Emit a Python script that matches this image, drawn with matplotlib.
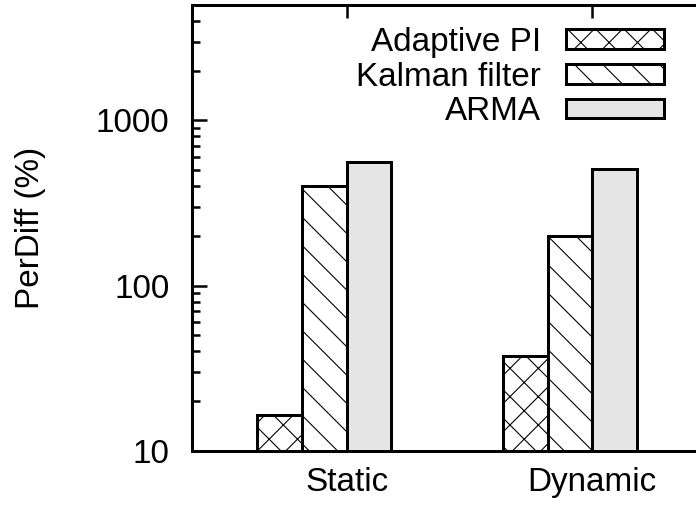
import matplotlib
matplotlib.use('Agg')
import matplotlib.pyplot as plt
from matplotlib.ticker import FixedLocator, FixedFormatter, LogLocator, NullFormatter
import numpy as np

# ---- data ----
categories = ['Static', 'Dynamic']
series_names = ['Adaptive PI', 'Kalman filter', 'ARMA']
adaptive_pi = [16.5, 37.5]
kalman_filter = [400, 200]
arma = [560, 510]
ytick_values = [10, 100, 1000]
ytick_labels = ['10', '100', '1000']
ylabel = 'PerDiff (%)'

# ---- style ----
DPI = 170
W, H = 696, 508
PX = 72.0 / DPI  # points per pixel
plt.rcParams['font.family'] = ['Liberation Sans', 'DejaVu Sans']
plt.rcParams['hatch.linewidth'] = 1.1 * PX
plt.rcParams['hatch.color'] = 'black'
FS = 33.3 * PX

fig = plt.figure(figsize=(W / DPI, H / DPI), dpi=DPI)
left_px, right_px, top_px, bottom_px = 191.7, 696.0, 5.0, 450.7
ax = fig.add_axes([left_px / W, (H - bottom_px) / H,
                   (right_px - left_px) / W, (bottom_px - top_px) / H])

ax.set_yscale('log')
x = np.arange(len(categories))
w = 0.182
offsets = [-1.5 * w, -0.5 * w, 0.5 * w]
hatches = ['xx', '\\\\', '']
faces = ['white', 'white', '#e5e5e5']
values = [adaptive_pi, kalman_filter, arma]
lw = 3.0 * PX
for vals, off, hatch, fc, name in zip(values, offsets, hatches, faces, series_names):
    ax.bar(x + off, vals, width=w, bottom=1e-3, facecolor=fc, edgecolor='black',
           linewidth=lw, hatch=hatch, label=name, zorder=2)

ax.set_ylim(10, 5000)
ax.set_xlim(-0.631, 1.422)

for s in ['left', 'top', 'bottom']:
    ax.spines[s].set_linewidth(3.0 * PX)
    ax.spines[s].set_zorder(3)
ax.spines['right'].set_visible(False)

ax.yaxis.set_major_locator(FixedLocator(ytick_values))
ax.yaxis.set_major_formatter(FixedFormatter(ytick_labels))
ax.yaxis.set_minor_locator(LogLocator(base=10, subs=np.arange(2, 10)))
ax.yaxis.set_minor_formatter(NullFormatter())
ax.set_xticks(x)
ax.set_xticklabels(categories)

ax.tick_params(axis='y', which='major', direction='in', length=15 * PX, width=2.5 * PX,
               left=True, right=False, labelsize=FS, pad=9.5)
ax.tick_params(axis='y', which='minor', direction='in', length=8 * PX, width=2.5 * PX,
               left=True, right=False)
ax.tick_params(axis='x', which='major', direction='in', length=13 * PX, width=2.5 * PX,
               top=True, bottom=True, labelsize=FS, pad=7)
ax.tick_params(axis='x', which='minor', bottom=False, top=False)

fig.text(30 / W, 1 - 228 / H, ylabel, rotation=90, ha='center', va='center', fontsize=FS)

leg = ax.legend(loc='upper right', bbox_to_anchor=(664 / W, 1 - 27 / H),
                bbox_transform=fig.transFigure, frameon=False, fontsize=FS,
                markerfirst=False, handlelength=2.95, handleheight=0.52,
                handletextpad=0.75, labelspacing=0.11, borderpad=0, borderaxespad=0)
for t in leg.get_texts():
    t.set_ha('right')

fig.savefig('out.png', dpi=DPI)
